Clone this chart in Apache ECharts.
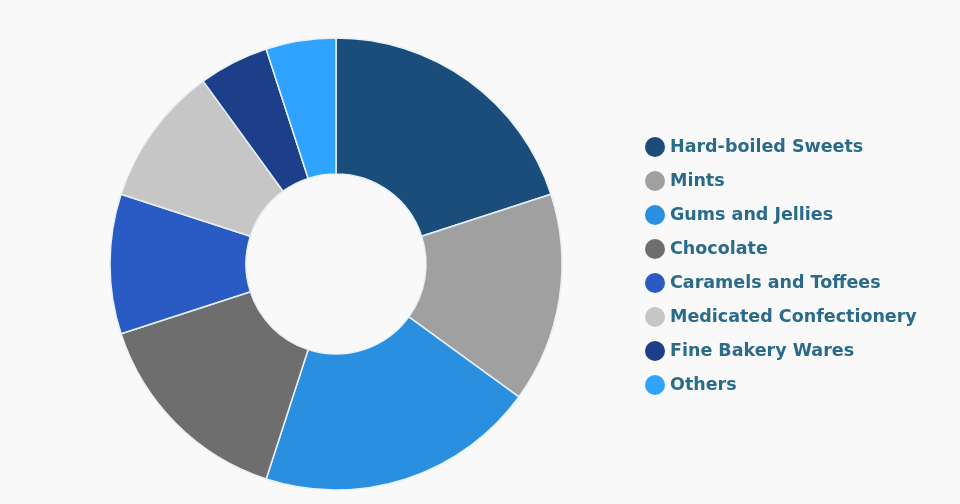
<!DOCTYPE html>
<html><head><meta charset="utf-8">
<script src="https://cdn.jsdelivr.net/npm/echarts@6/dist/echarts.min.js"></script>
<style>html,body{margin:0;padding:0;background:#f9f9f9;}#c{width:960px;height:504px;}</style>
</head><body><div id="c"></div>
<script>
const categories = ["Hard-boiled Sweets","Mints","Gums and Jellies","Chocolate","Caramels and Toffees","Medicated Confectionery","Fine Bakery Wares","Others"];
const values = [20,15,20,15,10,10,5,5];
const colors = ["#1a4d7a","#a0a0a0","#2b8fe0","#6e6e6e","#2a5bc4","#c6c6c6","#1d3f8a","#2ea3ff"];
const chart = echarts.init(document.getElementById('c'));
chart.setOption({
  backgroundColor:'#f9f9f9',
  color: colors,
  legend:{orient:'vertical',left:640,top:132,icon:'circle',itemWidth:20,itemHeight:20,itemGap:14,
    itemStyle:{borderWidth:0},
    textStyle:{color:'#2a6a8a',fontSize:17.5,fontWeight:'bold',fontFamily:'DejaVu Sans, sans-serif',padding:[0,0,0,0]},
    data:categories},
  series:[{type:'pie',center:[336,264],radius:[90,226],startAngle:90,clockwise:true,label:{show:false},labelLine:{show:false},
    itemStyle:{borderColor:'#e6f0fa',borderWidth:1.5},
    emphasis:{disabled:true},
    animation:false,
    data:categories.map((n,i)=>({name:n,value:values[i]}))}]
});
</script></body></html>
